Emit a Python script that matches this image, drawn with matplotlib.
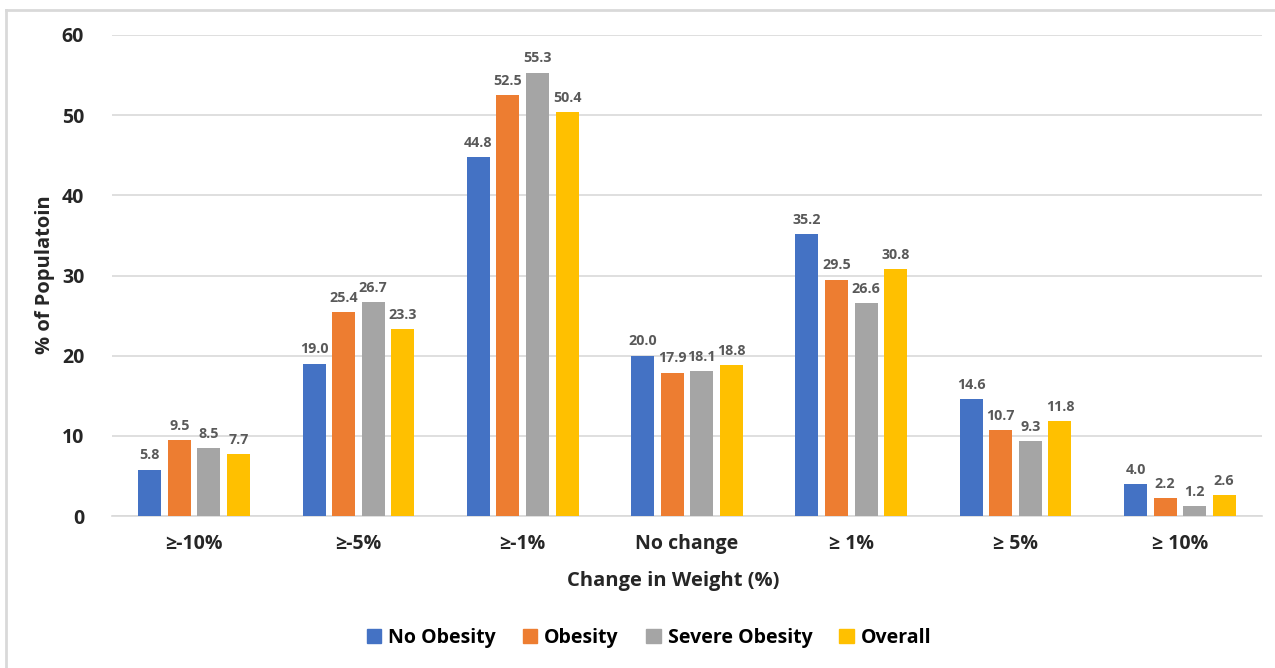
import matplotlib
matplotlib.use("Agg")
import matplotlib.pyplot as plt
import numpy as np
from matplotlib.lines import Line2D

categories = ["≥-10%", "≥-5%", "≥-1%", "No change", "≥ 1%", "≥ 5%", "≥ 10%"]
series_names = ["No Obesity", "Obesity", "Severe Obesity", "Overall"]
no_obesity = [5.8, 19.0, 44.8, 20.0, 35.2, 14.6, 4.0]
obesity = [9.5, 25.4, 52.5, 17.9, 29.5, 10.7, 2.2]
severe_obesity = [8.5, 26.7, 55.3, 18.1, 26.6, 9.3, 1.2]
overall = [7.7, 23.3, 50.4, 18.8, 30.8, 11.8, 2.6]
colors = ["#4472C4", "#ED7D31", "#A5A5A5", "#FFC000"]

plt.rcParams['font.family'] = ['Open Sans', 'DejaVu Sans']

fig = plt.figure(figsize=(12.75, 6.68), dpi=100)
ax = fig.add_axes([112/1275, 1-516/668, 1150/1275, (516-35)/668])

x = np.arange(len(categories))
step = 0.18
width = 0.14
data = [no_obesity, obesity, severe_obesity, overall]
for i, (vals, c, name) in enumerate(zip(data, colors, series_names)):
    pos = x + (i - 1.5) * step
    bars = ax.bar(pos, vals, width=width, color=c, label=name, zorder=3)
    for b, v in zip(bars, vals):
        ax.text(b.get_x() + b.get_width()/2, v + 0.9, f"{v:.1f}", ha='center', va='bottom',
                fontsize=10.3, fontweight='bold', color='#595959')

ax.set_xlim(-0.5, len(categories) - 0.5)
ax.set_ylim(0, 60)
ax.set_yticks(np.arange(0, 61, 10))
ax.yaxis.grid(True, color='#D9D9D9', linewidth=1.2, zorder=0)
ax.set_axisbelow(True)
for s in ['top', 'right', 'left']:
    ax.spines[s].set_visible(False)
ax.spines['bottom'].set_color('#D9D9D9')
ax.spines['bottom'].set_linewidth(1.2)
ax.tick_params(axis='both', length=0, labelsize=14, labelcolor='#262626')
ax.tick_params(axis='y', pad=20)
ax.tick_params(axis='x', pad=13)
ax.set_xticks(x)
ax.set_xticklabels(categories, fontweight='bold')
for lab in ax.get_yticklabels():
    lab.set_fontweight('bold')

fig.text(45/1275, 1-275/668, "% of Populatoin", rotation=90, ha='center', va='center',
         fontsize=14.5, fontweight='bold', color='#262626')
fig.text(673/1275, 1-581/668, "Change in Weight (%)", ha='center', va='center',
         fontsize=14.5, fontweight='bold', color='#262626')

handles = [plt.Rectangle((0, 0), 1, 1, color=c) for c in colors]
fig.legend(handles, series_names, loc='center', bbox_to_anchor=(649/1275, 1-638/668),
           ncol=4, frameon=False, handlelength=0.75, handleheight=0.75,
           handletextpad=0.35, columnspacing=1.4, prop={'weight': 'bold', 'size': 14})

# figure border (top and left)
fig.add_artist(Line2D([6/1275, 1], [1-10/668, 1-10/668], color='#D9D9D9', linewidth=2, transform=fig.transFigure))
fig.add_artist(Line2D([6/1275, 6/1275], [0, 1-10/668], color='#D9D9D9', linewidth=2, transform=fig.transFigure))

fig.savefig("out.png", dpi=100)
